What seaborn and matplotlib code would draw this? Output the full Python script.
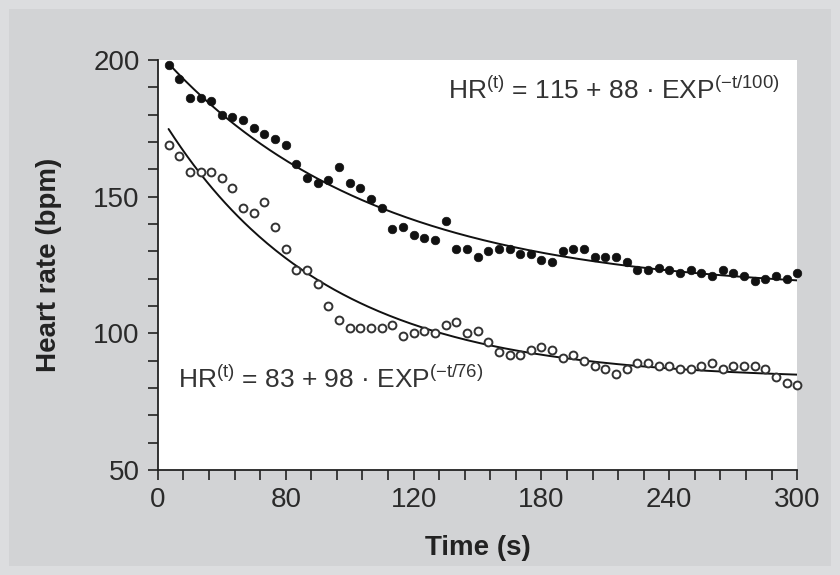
import matplotlib
matplotlib.use("Agg")
import matplotlib.pyplot as plt
from matplotlib import font_manager
from matplotlib.patches import Rectangle
from matplotlib.ticker import MultipleLocator, FixedLocator
import numpy as np
import pandas as pd
import seaborn as sns

# ---------------- data ----------------
time_s = list(range(5, 301, 5))
hr_filled = [198, 193, 186, 186, 185, 180, 179, 178, 175, 173,
             171, 169, 162, 157, 155, 156, 161, 155, 153, 149,
             146, 138, 139, 136, 135, 134, 141, 131, 131, 128,
             130, 131, 131, 129, 129, 127, 126, 130, 131, 131,
             128, 128, 128, 126, 123, 123, 124, 123, 122, 123,
             122, 121, 123, 122, 121, 119, 120, 121, 120, 122]
hr_open = [169, 165, 159, 159, 159, 157, 153, 146, 144, 148,
           139, 131, 123, 123, 118, 110, 105, 102, 102, 102,
           102, 103, 99, 100, 101, 100, 103, 104, 100, 101,
           97, 93, 92, 92, 94, 95, 94, 91, 92, 90,
           88, 87, 85, 87, 89, 89, 88, 88, 87, 87,
           88, 89, 87, 88, 88, 88, 87, 84, 82, 81]

# fitted model parameters (from the annotations)
fit_filled = (115, 88, 100)
fit_open = (83, 98, 76)

x_tick_pos = [0, 60, 120, 180, 240, 300]
x_tick_labels = ["0", "80", "120", "180", "240", "300"]
y_tick_pos = [50, 100, 150, 200]

# ---------------- style ----------------
sns.set_style("ticks")
avail = {f.name for f in font_manager.fontManager.ttflist}
base_font = "Liberation Sans" if "Liberation Sans" in avail else "DejaVu Sans"
plt.rcParams["font.family"] = [base_font, "DejaVu Sans"]
plt.rcParams["mathtext.fontset"] = "custom"
plt.rcParams["mathtext.rm"] = base_font
plt.rcParams["mathtext.it"] = base_font
plt.rcParams["mathtext.bf"] = base_font

outer = "#dcdddf"
bg = "#d2d3d5"
fig = plt.figure(figsize=(8.4, 5.75), dpi=100, facecolor=outer)
frame = Rectangle((9 / 840, 9 / 575), 822 / 840, 557 / 575,
                  transform=fig.transFigure, facecolor=bg,
                  edgecolor="none", zorder=-10)
fig.add_artist(frame)
ax = fig.add_axes([0.188, 0.1826, 0.761, 0.7130])
ax.set_zorder(1)
ax.set_facecolor("white")

df_f = pd.DataFrame({"t": time_s, "hr": hr_filled})
df_o = pd.DataFrame({"t": time_s, "hr": hr_open})

t_fit = np.linspace(5, 300, 300)
def model(p, t):
    a, b, tau = p
    return a + b * np.exp(-t / tau)
df_ff = pd.DataFrame({"t": t_fit, "hr": model(fit_filled, t_fit)})
df_fo = pd.DataFrame({"t": t_fit, "hr": model(fit_open, t_fit)})

sns.lineplot(data=df_ff, x="t", y="hr", ax=ax, color="#111111", lw=1.4, zorder=2)
sns.lineplot(data=df_fo, x="t", y="hr", ax=ax, color="#111111", lw=1.4, zorder=2)
sns.scatterplot(data=df_f, x="t", y="hr", ax=ax, color="#111111", s=38,
                edgecolor="#111111", linewidth=0.5, zorder=3, clip_on=False)
sns.scatterplot(data=df_o, x="t", y="hr", ax=ax, color="white", s=32,
                edgecolor="#333333", linewidth=1.4, zorder=3, clip_on=False)

ax.set_xlim(0, 300)
ax.set_ylim(50, 200)
ax.xaxis.set_major_locator(FixedLocator(x_tick_pos))
ax.set_xticklabels(x_tick_labels)
ax.xaxis.set_minor_locator(MultipleLocator(12))
ax.yaxis.set_major_locator(FixedLocator(y_tick_pos))
ax.yaxis.set_minor_locator(MultipleLocator(10))

for side in ("top", "right"):
    ax.spines[side].set_visible(False)
for side in ("left", "bottom"):
    ax.spines[side].set_color("#222222")
    ax.spines[side].set_linewidth(1.3)

ax.tick_params(axis="both", which="both", direction="out", length=7.2,
               width=1.2, color="#222222", labelsize=20, labelcolor="#2a2a2a")
ax.tick_params(axis="x", which="major", pad=5)
ax.tick_params(axis="y", which="major", pad=6)

ax.set_xlabel("Time (s)", fontsize=20, fontweight="bold", color="#222222")
ax.set_ylabel("Heart rate (bpm)", fontsize=20, fontweight="bold", color="#222222")
ax.xaxis.set_label_coords(0.5, -0.158)
ax.yaxis.set_label_coords(-0.150, 0.5)

ax.text(291.5, 185.6, r"HR$^{\mathrm{(t)}}$ = 115 + 88 · EXP$^{\mathrm{(-t/100)}}$",
        ha="right", va="baseline", fontsize=19, color="#333333")
ax.text(9.4, 80.0, r"HR$^{\mathrm{(t)}}$ = 83 + 98 · EXP$^{\mathrm{(-t/76)}}$",
        ha="left", va="baseline", fontsize=19, color="#333333")

fig.savefig("out.png", dpi=100, facecolor=outer)
